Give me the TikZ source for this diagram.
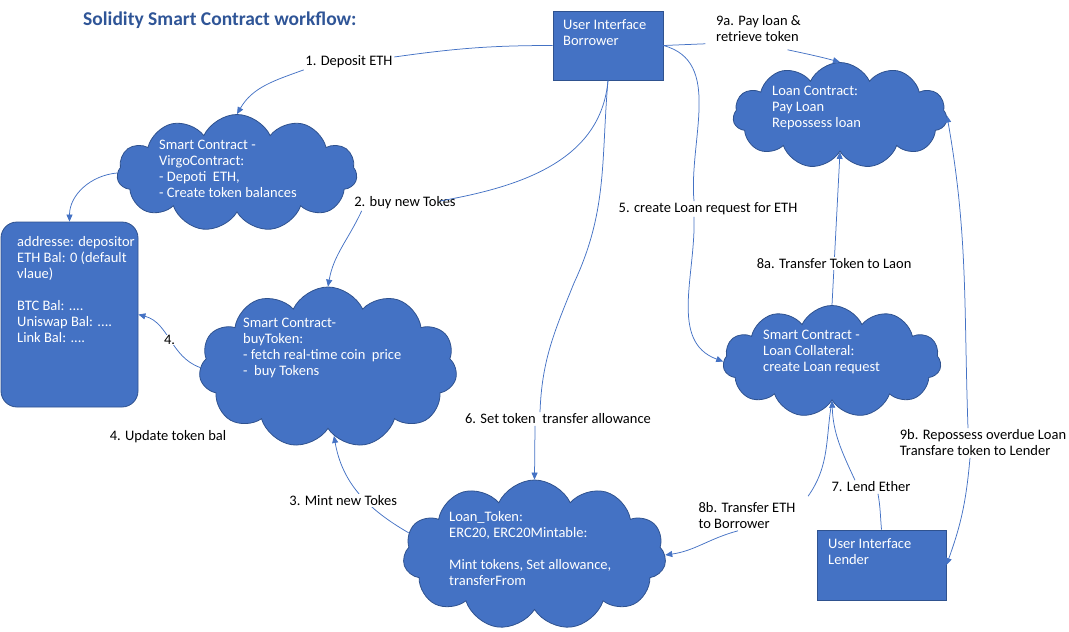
\documentclass[tikz,border=0pt]{standalone}
\usepackage{fontspec}
\setmainfont{Carlito}
\usetikzlibrary{arrows.meta, shapes.symbols}

\definecolor{boxblue}{HTML}{4472C4}
\definecolor{boxedge}{HTML}{2F528F}
\definecolor{titleblue}{HTML}{2F5597}

\begin{document}
\begin{tikzpicture}[
  x=1pt, y=-1pt,
  uibox/.style={rectangle, draw=boxedge, fill=boxblue, line width=0.8pt, inner sep=0pt},
  balbox/.style={uibox, rounded corners=16pt},
  cloudbox/.style={cloud, cloud puffs=11, cloud puff arc=130, cloud ignores aspect,
    draw=boxedge, fill=boxblue, line width=0.8pt, inner sep=0pt},
  ctext/.style={text=white, align=left, anchor=north west, inner sep=0pt,
    font=\fontsize{14.5}{16}\selectfont},
  lbl/.style={align=left, fill=white, inner sep=1.5pt, font=\fontsize{14.5}{16}\selectfont},
  conn/.style={draw=boxblue, line width=0.75pt},
  arr/.style={conn, -{Triangle[length=7pt, width=6pt]}},
]
\useasboundingbox (0,0) rectangle (1069,632);

% Title
\node[anchor=base west, inner sep=0pt, text=titleblue,
  font=\fontsize{19.5}{22}\selectfont\bfseries] (title) at (83,25) {Solidity Smart Contract workflow:};

% User interfaces and balance sheet
\node[uibox, minimum width=110pt, minimum height=69pt] (ub) at (608,45.5) {};
\node[uibox, minimum width=129pt, minimum height=70pt] (ul) at (881.5,565) {};
\node[balbox, minimum width=137pt, minimum height=185pt] (bal) at (69.5,314.5) {};

% Contracts
\node[cloudbox, minimum width=240pt, minimum height=117pt] (virgo) at (237,173) {};
\node[cloudbox, minimum width=258pt, minimum height=161pt] (buy) at (328,367.5) {};
\node[cloudbox, minimum width=263pt, minimum height=150pt] (loantok) at (534.5,555) {};
\node[cloudbox, minimum width=214pt, minimum height=106pt] (loanc) at (840,115.5) {};
\node[cloudbox, minimum width=218pt, minimum height=112pt] (coll) at (832,361.5) {};

% Texts inside the shapes
\node[ctext] (ubtxt) at (563,19) {User Interface\\Borrower};
\node[ctext] (ultxt) at (828,538) {User Interface\\Lender};
\node[ctext] (baltxt) at (17,236) {addresse: depositor\\ETH Bal: 0 (default\\vlaue)\\[16pt]BTC Bal: ....\\Uniswap Bal: ....\\Link Bal: ....};
\node[ctext] (virgotxt) at (159,140) {Smart Contract -\\VirgoContract:\\- Depoti~ ETH,\\- Create token balances};
\node[ctext] (buytxt) at (243,318) {Smart Contract-\\buyToken:\\- fetch real-time coin~ price\\-~ buy Tokens};
\node[ctext] (loantoktxt) at (449,511) {Loan\_Token:\\ERC20, ERC20Mintable:\\[16pt]Mint tokens, Set allowance,\\transferFrom};
\node[ctext] (loanctxt) at (772,86) {Loan Contract:\\Pay Loan\\Repossess loan};
\node[ctext] (colltxt) at (763,330) {Smart Contract -\\Loan Collateral:\\create Loan request};

% Step labels
\node[lbl] (deplbl) at (349,62) {1. Deposit ETH};
\node[lbl] (buylbl) at (405,203) {2. buy new Tokes};
\node[lbl] (updlbl) at (168,437) {4. Update token bal};
\node[lbl] (reqlbl) at (708,209) {5. create Loan request for ETH};
\node[lbl] (allowlbl) at (558,419) {6. Set token~ transfer allowance};
\node[lbl] (lendlbl) at (871,487) {7. Lend Ether};
\node[lbl] (ethlbl) at (747,516) {8b. Transfer ETH\\to Borrower};
\node[lbl] (paylbl) at (758.5,29) {9a. Pay loan \&\\retrieve token};
\node[lbl] (reposlbl) at (983,443) {9b. Repossess overdue Loan\\Transfare token to Lender};

% 1. deposit
\draw[conn] (ub.west) to[out=180, in=8] ([yshift=5pt]deplbl.east);
\draw[arr] (deplbl.south west) to[out=200, in=60] (virgo.north);
\draw[arr] (virgo.west) to[out=185, in=90] (bal.north);

% 2. buy
\draw[conn] (ub.south) to[out=-95, in=10] ([shift={(-18pt,-6pt)}]buylbl.north east);
\draw[arr] ([xshift=9pt]buylbl.south west) to[out=-115, in=80] (buy.north);

% 3. mint, 4. update
\draw[arr] (loantok.170) to[out=150, in=-80]
  node[lbl, pos=0.42, xshift=-22pt] (mintlbl) {3. Mint new Tokes} (buy.-85);
\draw[arr] (buy.west) to[out=160, in=-15] node[lbl, inner sep=0.5pt] (fourlbl) {4.} (bal.east);

% 5. loan request
\draw[conn] (ub.east) to[out=-15, in=95] ([xshift=-14pt]reqlbl.north);
\draw[arr] ([xshift=-14pt]reqlbl.south) to[out=-88, in=160] (coll.west);

% 6. allowance
\coordinate (kink) at (574,283);
\draw[conn] (ub.south) to[out=-95, in=65] (kink) to[out=-112, in=88] ([xshift=-18pt]allowlbl.north);
\draw[arr] ([xshift=-23pt]allowlbl.south) -- (loantok.north);

% 7. lend
\draw[conn] (ul.north) to[out=95, in=-80] ([xshift=7pt]lendlbl.south);
\draw[arr] ([xshift=-16pt]lendlbl.north) to[out=115, in=-88] (coll.south);

% 8a / 8b
\draw[arr] (coll.north) -- node[lbl, pos=0.27] (toklbl) {8a. Transfer Token to Laon} (loanc.south);
\draw[conn] (coll.south) to[out=-100, in=55] ([shift={(11pt,5pt)}]ethlbl.north east);
\draw[arr] ([xshift=-9pt]ethlbl.south) to[out=195, in=8] (loantok.east);

% 9a / 9b
\draw[conn] (ub.east) -- ([xshift=-9pt]paylbl.south west);
\draw[arr] ([shift={(-15pt,-6pt)}]paylbl.south east) to[out=-12, in=165] (loanc.north);
\draw[arr] ([xshift=-15pt]reposlbl.north) to[out=92, in=-80] (loanc.east);
\draw[arr] ([xshift=-13pt]reposlbl.south) to[out=-95, in=70] (ul.east);

\end{tikzpicture}
\end{document}
